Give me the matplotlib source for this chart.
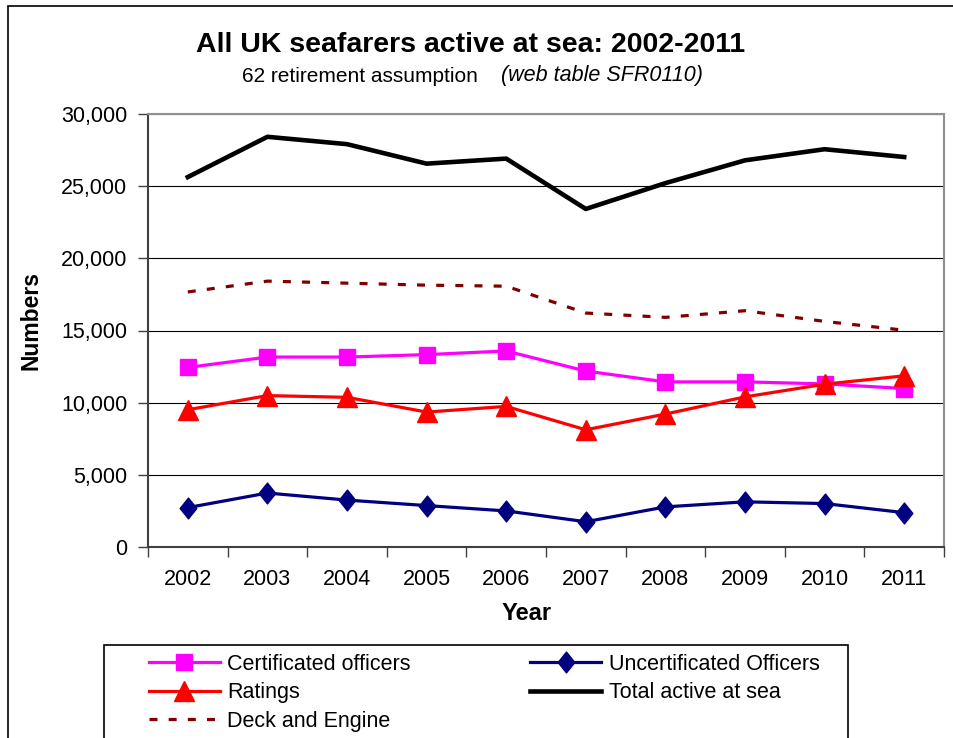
import matplotlib
matplotlib.use("Agg")
import matplotlib.pyplot as plt
from matplotlib.patches import Rectangle
from matplotlib.path import Path

plt.rcParams['font.family'] = ['Liberation Sans', 'DejaVu Sans']

# Data
years = ['2002', '2003', '2004', '2005', '2006', '2007', '2008', '2009', '2010', '2011']
certificated = [12440, 13160, 13160, 13330, 13580, 12190, 11440, 11440, 11300, 10980]
uncertificated = [2730, 3740, 3250, 2870, 2500, 1750, 2780, 3130, 3010, 2380]
ratings = [9510, 10490, 10370, 9350, 9740, 8120, 9210, 10400, 11280, 11860]
total = [25630, 28420, 27910, 26560, 26910, 23420, 25210, 26790, 27560, 27020]
deck_engine = [17670, 18420, 18280, 18140, 18070, 16210, 15910, 16370, 15630, 15020]

fig = plt.figure(figsize=(9.54, 7.38), dpi=100)
W, H = 954, 738

# outer chart border (Excel chart area)
fig.patches.append(Rectangle((8 / W, -0.05), 1.2, 1 - 6 / H + 0.05, transform=fig.transFigure,
                             fill=False, edgecolor='black', linewidth=1.2))

ax = fig.add_axes([148 / W, 1 - 547 / H, (944 - 148) / W, (547 - 114) / H])
x = range(len(years))

# slightly squat diamond like the Excel marker
diamond = Path([(0, 1), (0.8, 0), (0, -1), (-0.8, 0), (0, 1)],
               [Path.MOVETO, Path.LINETO, Path.LINETO, Path.LINETO, Path.CLOSEPOLY])

l_cert, = ax.plot(x, certificated, color='#FF00FF', linewidth=2.3, marker='s', markersize=12,
                  label='Certificated officers')
l_unc, = ax.plot(x, uncertificated, color='#000080', linewidth=2.3, marker=diamond, markersize=15,
                 label='Uncertificated Officers')
l_rat, = ax.plot(x, ratings, color='#FF0000', linewidth=2.3, marker='^', markersize=14,
                 label='Ratings')
l_tot, = ax.plot(x, total, color='black', linewidth=3.3, label='Total active at sea')
l_deck, = ax.plot(x, deck_engine, color='#800000', linewidth=2.3, dashes=(2.5, 3.5),
                  label='Deck and Engine')

ax.set_xlim(-0.5, len(years) - 0.5)
ax.set_ylim(0, 30000)
ax.set_yticks(range(0, 30001, 5000))
ax.set_yticklabels(['{:,}'.format(v) for v in range(0, 30001, 5000)], fontsize=15.5)
ax.yaxis.grid(True, color='black', linewidth=0.8)
ax.set_axisbelow(True)

# category labels between tick marks
ax.set_xticks([i - 0.5 for i in range(len(years) + 1)])
ax.set_xticklabels([])
ax.set_xticks(list(x), minor=True)
ax.set_xticklabels(years, minor=True, fontsize=15.5)
ax.tick_params(axis='x', which='major', direction='out', length=7, width=1, color='#404040')
ax.tick_params(axis='x', which='minor', length=0, pad=16)
ax.tick_params(axis='y', direction='out', length=7, width=1, color='#404040', pad=8)

for s in ['top', 'right']:
    ax.spines[s].set_color('#909090')
    ax.spines[s].set_linewidth(1.5)
for s in ['left', 'bottom']:
    ax.spines[s].set_color('#404040')
    ax.spines[s].set_linewidth(1.5)

fig.text(471 / W, 1 - 45 / H, 'All UK seafarers active at sea: 2002-2011', ha='center', va='center',
         fontsize=20.5, fontweight='bold')
fig.text(478 / W, 1 - 76 / H, '62 retirement assumption', ha='right', va='center', fontsize=15)
fig.text(501 / W, 1 - 76 / H, '(web table SFR0110)', ha='left', va='center', fontsize=15.5,
         style='italic')
fig.text(31 / W, 1 - 320 / H, 'Numbers', rotation=90, ha='center', va='center', fontsize=16.5,
         fontweight='bold')
fig.text(527 / W, 1 - 613 / H, 'Year', ha='center', va='center', fontsize=17, fontweight='bold')

# legend box runs off the bottom of the image
fig.patches.append(Rectangle((104 / W, -0.05), (848 - 104) / W, 1 - 645 / H + 0.05,
                             transform=fig.transFigure, fill=False, edgecolor='black', linewidth=1.2))
fig.legend([l_cert, l_rat, l_deck, l_unc, l_tot],
           [l.get_label() for l in [l_cert, l_rat, l_deck, l_unc, l_tot]],
           ncol=2, loc='upper left', bbox_to_anchor=(140 / W, 1 - 645 / H), frameon=False,
           fontsize=15.5, handlelength=3.3, handletextpad=0.35, columnspacing=5.55, labelspacing=0.35,
           borderaxespad=0)

fig.savefig('out.png', dpi=100)
